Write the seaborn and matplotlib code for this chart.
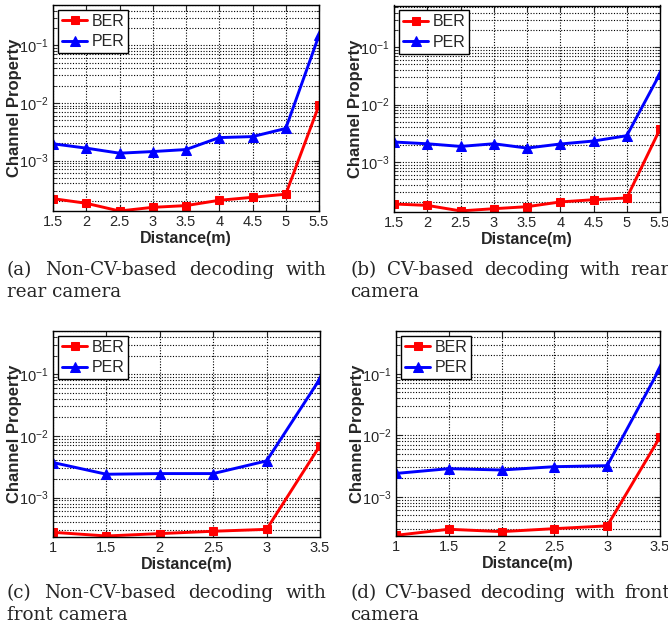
import numpy as np
import pandas as pd
import matplotlib
matplotlib.use("Agg")
import matplotlib.pyplot as plt
import matplotlib.ticker as mticker
import seaborn as sns

# ---- data ----
dist_rear = [1.5, 2, 2.5, 3, 3.5, 4, 4.5, 5, 5.5]
dist_front = [1, 1.5, 2, 2.5, 3, 3.5]

ber_a = [2.18e-4, 1.81e-4, 1.33e-4, 1.54e-4, 1.65e-4, 2.04e-4, 2.30e-4, 2.6e-4, 9.1e-3]
per_a = [1.95e-3, 1.64e-3, 1.34e-3, 1.43e-3, 1.55e-3, 2.5e-3, 2.6e-3, 3.6e-3, 0.149]

ber_b = [1.86e-4, 1.76e-4, 1.41e-4, 1.54e-4, 1.67e-4, 2.02e-4, 2.21e-4, 2.37e-4, 3.75e-3]
per_b = [2.23e-3, 2.08e-3, 1.87e-3, 2.08e-3, 1.75e-3, 2.06e-3, 2.32e-3, 2.87e-3, 3.46e-2]

ber_c = [2.74e-4, 2.39e-4, 2.61e-4, 2.85e-4, 3.06e-4, 6.97e-3]
per_c = [3.7e-3, 2.39e-3, 2.45e-3, 2.45e-3, 3.93e-3, 8.4e-2]

ber_d = [2.36e-4, 2.96e-4, 2.71e-4, 3.03e-4, 3.36e-4, 9.4e-3]
per_d = [2.40e-3, 2.87e-3, 2.73e-3, 3.09e-3, 3.21e-3, 0.125]

captions = [
    ["(a) Non-CV-based decoding with", "rear camera"],
    ["(b) CV-based decoding with rear", "camera"],
    ["(c) Non-CV-based decoding with", "front camera"],
    ["(d) CV-based decoding with front", "camera"],
]
series_names = ["BER", "PER"]
xlabel = "Distance(m)"
ylabel = "Channel Property"

sns.set_style("ticks")
plt.rcParams['font.family'] = ['Liberation Sans', 'DejaVu Sans']
plt.rcParams['mathtext.fontset'] = 'custom'
plt.rcParams['mathtext.rm'] = 'Liberation Sans'

fig = plt.figure(figsize=(6.68, 6.30), dpi=100)

W, H = 668.0, 630.0
def rect(l, t, r, b):
    return [l / W, 1 - b / H, (r - l) / W, (b - t) / H]

panels = [
    (rect(53, 5, 319, 211), dist_rear, ber_a, per_a, (1.33e-4, 0.5)),
    (rect(394, 5.5, 660, 212), dist_rear, ber_b, per_b, (1.35e-4, 0.53)),
    (rect(53, 331, 320, 537), dist_front, ber_c, per_c, (2.3e-4, 0.5)),
    (rect(396, 331, 660, 536), dist_front, ber_d, per_d, (2.3e-4, 0.5)),
]

for (pos, xs, ber, per, ylim) in panels:
    ax = fig.add_axes(pos)
    df = pd.DataFrame({
        "x": list(xs) * 2,
        "y": list(ber) + list(per),
        "s": [series_names[0]] * len(xs) + [series_names[1]] * len(xs),
    })
    sns.lineplot(data=df[df.s == "BER"], x="x", y="y", ax=ax, color="#ff0000",
                 marker="s", markersize=5.5, linewidth=2.1, markeredgecolor="#ff0000",
                 label="BER", legend=False)
    sns.lineplot(data=df[df.s == "PER"], x="x", y="y", ax=ax, color="#0000ff",
                 marker="^", markersize=6.5, linewidth=2.1, markeredgecolor="#0000ff",
                 label="PER", legend=False)
    ax.set_yscale("log")
    ax.set_ylim(*ylim)
    ax.set_xlim(xs[0], xs[-1])
    ax.set_xticks(xs)
    ax.set_xticklabels([f"{v:g}" for v in xs])
    ax.yaxis.set_major_locator(mticker.FixedLocator([1e-3, 1e-2, 1e-1]))
    ax.yaxis.set_minor_locator(mticker.LogLocator(base=10, subs=np.arange(2, 10), numticks=20))
    ax.yaxis.set_minor_formatter(mticker.NullFormatter())
    ax.grid(True, which="major", axis="both", color="black", linestyle=(0, (1, 1.5)), linewidth=0.8)
    ax.grid(True, which="minor", axis="y", color="black", linestyle=(0, (1, 1.5)), linewidth=0.8)
    ax.tick_params(which="both", direction="in", top=True, right=True, labelsize=10.5, pad=3)
    ax.tick_params(which="major", length=4, width=0.8)
    ax.tick_params(which="minor", length=2, width=0.6)
    for sp in ax.spines.values():
        sp.set_visible(True)
        sp.set_linewidth(1.0)
        sp.set_color("black")
    ax.set_xlabel(xlabel, fontsize=11.5, fontweight="bold", labelpad=1)
    ax.set_ylabel(ylabel, fontsize=12, fontweight="bold", labelpad=-2)
    leg = ax.legend(loc="upper left", fontsize=11.5, frameon=True, fancybox=False,
                    edgecolor="black", framealpha=1, borderpad=0.25, handlelength=1.6,
                    handletextpad=0.25, labelspacing=0.35, borderaxespad=0.3)
    leg.get_frame().set_linewidth(1.0)

# captions, first line justified to column width
renderer = fig.canvas.get_renderer()
cap_fs = 13.2
col_w = 320.0
cap_pos = [(7, 275), (350, 275), (7, 598), (350, 598)]
for (cx, cy), lines in zip(cap_pos, captions):
    words = lines[0].split(" ")
    widths = []
    for w in words:
        t = fig.text(0, 0, w, fontsize=cap_fs, family="DejaVu Serif")
        widths.append(t.get_window_extent(renderer).width)
        t.remove()
    gap = (col_w - sum(widths)) / (len(words) - 1)
    x = cx
    for w, wd in zip(words, widths):
        fig.text(x / W, 1 - cy / H, w, fontsize=cap_fs, family="DejaVu Serif",
                 va="baseline", ha="left")
        x += wd + gap
    fig.text(cx / W, 1 - (cy + 22) / H, lines[1], fontsize=cap_fs, family="DejaVu Serif",
             va="baseline", ha="left")

fig.savefig("out.png", dpi=100)
